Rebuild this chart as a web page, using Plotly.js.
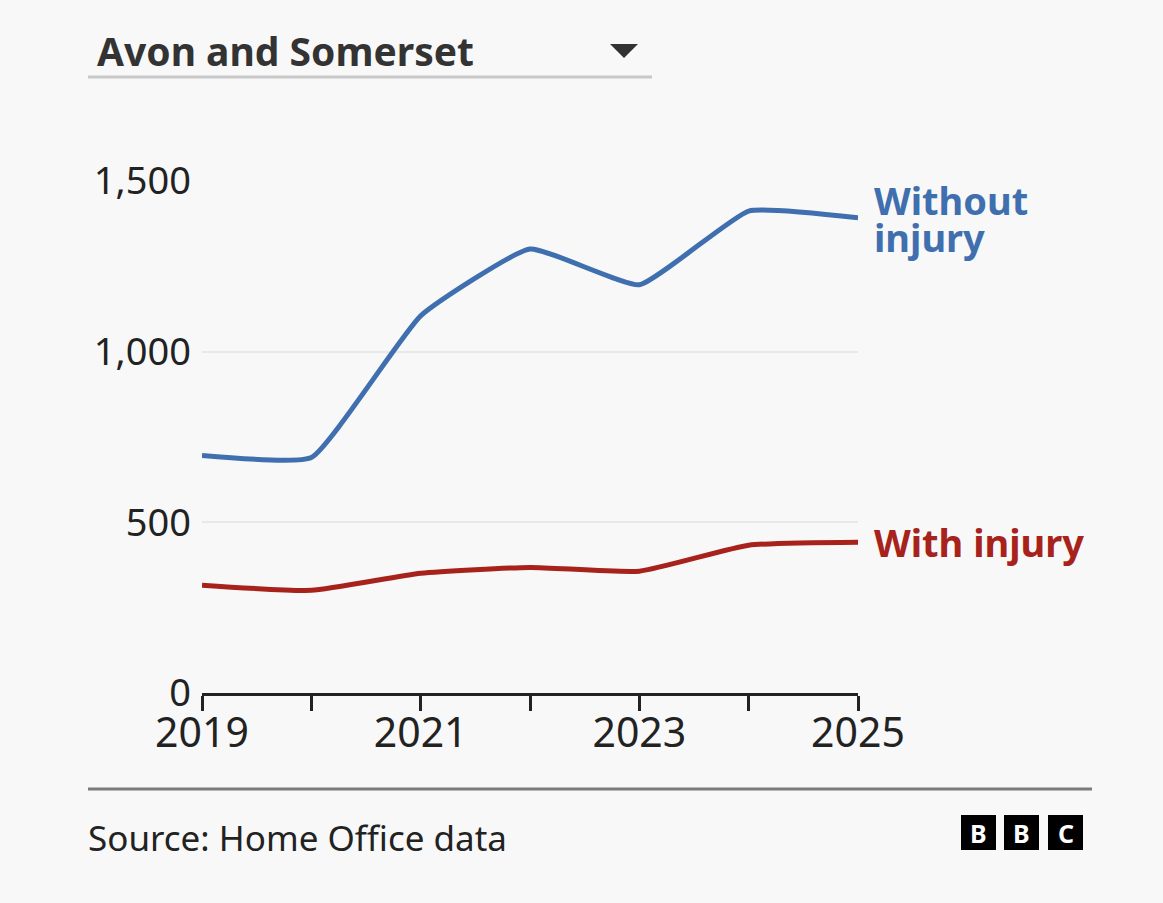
<!DOCTYPE html>
<html>
<head>
<meta charset="utf-8">
<script src="https://cdn.plot.ly/plotly-3.0.1.min.js"></script>
<style>
html,body{margin:0;padding:0;background:#f8f8f8;}
#chart{width:1163px;height:903px;}
</style>
</head>
<body>
<div id="chart"></div>
<script>
// ---- data ----
const years = [2019, 2020, 2021, 2022, 2023, 2024, 2025];
const withoutInjury = [696, 690, 1105, 1301, 1196, 1412, 1392];
const withInjury = [316, 301, 351, 368, 357, 433, 442];
const yTickVals = [0, 500, 1000, 1500];
const yTickText = ['0', '500', '1,000', '1,500'];
const xTickText = ['2019', '', '2021', '', '2023', '', '2025'];
const seriesNames = ['Without injury', 'With injury'];
const labelLinesWithout = ['Without', 'injury'];
const labelWith = 'With injury';
const headerText = 'Avon and Somerset';
const sourceText = 'Source: Home Office data';
const logoLetters = ['B', 'B', 'C'];

// ---- layout helpers (pixel -> paper) ----
const W = 1163, H = 903;
const M = {l: 202, r: 305, t: 181, b: 210};
const pw = W - M.l - M.r, ph = H - M.t - M.b;
const px = x => (x - M.l) / pw;
const py = y => (H - M.b - y) / ph;

const blue = '#3f6fae';
const red = '#a8221c';
const ink = '#222222';
const font = 'Noto Sans, Open Sans, sans-serif';

const traces = [
  {x: years, y: withoutInjury, name: seriesNames[0], type: 'scatter', mode: 'lines',
   line: {color: blue, width: 5, shape: 'spline', smoothing: 0.4}, hoverinfo: 'skip'},
  {x: years, y: withInjury, name: seriesNames[1], type: 'scatter', mode: 'lines',
   line: {color: red, width: 5, shape: 'spline', smoothing: 0.5}, hoverinfo: 'skip'}
];

const last = years.length - 1;
const shapes = [
  {type: 'line', xref: 'paper', yref: 'paper', x0: px(88), x1: px(652), y0: py(77), y1: py(77),
   line: {color: '#c8c8c8', width: 3}},
  {type: 'path', xref: 'paper', yref: 'paper',
   path: `M ${px(610)} ${py(44)} L ${px(638)} ${py(44)} L ${px(624)} ${py(58)} Z`,
   fillcolor: '#333', line: {width: 0}},
  {type: 'line', xref: 'paper', yref: 'paper', x0: px(88), x1: px(1092), y0: py(789), y1: py(789),
   line: {color: '#7a7a7a', width: 3}},
  {type: 'line', xref: 'x', xsizemode: 'pixel', xanchor: years[last], x0: 0, x1: 10,
   yref: 'y', y0: withoutInjury[last], y1: withoutInjury[last], line: {color: '#9a9a9a', width: 2}},
  {type: 'line', xref: 'x', xsizemode: 'pixel', xanchor: years[last], x0: 0, x1: 10,
   yref: 'y', y0: withInjury[last], y1: withInjury[last], line: {color: '#9a9a9a', width: 2}}
];
const logoX = [961, 1004, 1048];
logoX.forEach(x0 => {
  shapes.push({type: 'rect', xref: 'paper', yref: 'paper', x0: px(x0), x1: px(x0 + 35),
    y0: py(815), y1: py(850), fillcolor: '#000', line: {width: 0}});
});

const labelFont = c => ({family: font, size: 38, color: c, weight: 700});
const annotations = [
  {text: '<b>' + headerText + '</b>', xref: 'paper', yref: 'paper', x: px(95), y: py(50),
   xanchor: 'left', yanchor: 'middle', showarrow: false, font: {family: font, size: 39, color: '#333'}},
  {text: sourceText, xref: 'paper', yref: 'paper', x: px(86), y: py(837),
   xanchor: 'left', yanchor: 'middle', showarrow: false, font: {family: font, size: 35, color: ink}},
  {text: labelLinesWithout[0], xref: 'x', yref: 'y', x: years[last], y: withoutInjury[last], xshift: 14, yshift: 18,
   xanchor: 'left', yanchor: 'middle', align: 'left', showarrow: false, font: labelFont(blue)},
  {text: labelLinesWithout[1], xref: 'x', yref: 'y', x: years[last], y: withoutInjury[last], xshift: 14, yshift: -19,
   xanchor: 'left', yanchor: 'middle', align: 'left', showarrow: false, font: labelFont(blue)},
  {text: labelWith, xref: 'x', yref: 'y', x: years[last], y: withInjury[last], xshift: 14,
   xanchor: 'left', yanchor: 'middle', align: 'left', showarrow: false, font: labelFont(red)}
];
logoLetters.forEach((t, i) => {
  annotations.push({text: '<b>' + t + '</b>', xref: 'paper', yref: 'paper', x: px(logoX[i] + 17.5), y: py(833),
    xanchor: 'center', yanchor: 'middle', showarrow: false, font: {family: font, size: 25, color: '#fff'}});
});

const layout = {
  width: W, height: H,
  margin: M,
  paper_bgcolor: '#f8f8f8', plot_bgcolor: '#f8f8f8',
  showlegend: false,
  font: {family: font, color: ink},
  xaxis: {
    range: [years[0], years[last]], tickvals: years, ticktext: xTickText,
    showline: true, linecolor: ink, linewidth: 3, ticks: 'outside', ticklen: 15, tickwidth: 3,
    tickcolor: ink, showgrid: false, zeroline: false, ticklabelstandoff: -13,
    tickfont: {size: 41, color: ink, family: font}, fixedrange: true
  },
  yaxis: {
    range: [0, 1500], tickvals: yTickVals, ticktext: yTickText,
    showgrid: true, gridcolor: '#e8e8e8', gridwidth: 2, zeroline: false, ticks: '',
    ticklabelstandoff: 10, tickfont: {size: 38, color: ink, family: font}, fixedrange: true
  },
  shapes: shapes,
  annotations: annotations
};

Plotly.newPlot('chart', traces, layout, {displayModeBar: false, staticPlot: true});
</script>
</body>
</html>
